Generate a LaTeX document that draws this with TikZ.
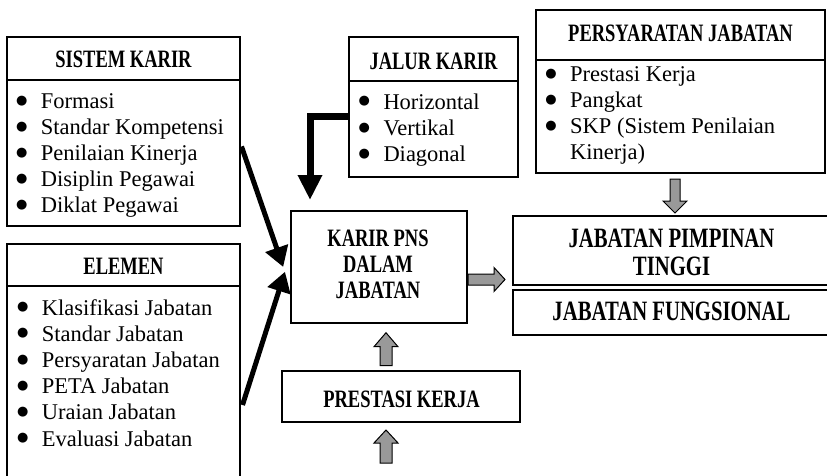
\documentclass[tikz,border=0pt]{standalone}
\usepackage{fontspec}
\usepackage{graphicx}
\setmainfont{Liberation Serif}
\newfontfamily\hdrfam[FakeStretch=0.74]{Liberation Serif}
\newfontfamily\bulfam{DejaVu Sans}
\usetikzlibrary{arrows.meta,calc}
\newcommand\bul{\makebox[0pt][r]{\raisebox{4.3pt}{\bulfam\fontsize{13}{13}\selectfont ●}\hspace{13.5pt}}}
\tikzset{
  box/.style={draw, line width=1.6pt, inner sep=0pt},
  rule/.style={line width=1.6pt},
  hdr/.style={font=\hdrfam\bfseries\fontsize{25}{26}\selectfont, inner sep=0pt, anchor=base},
  bighdr/.style={font=\hdrfam\bfseries\fontsize{28}{28}\selectfont, inner sep=0pt, anchor=base},
  itm/.style={font=\fontsize{22.5}{26}\selectfont, inner sep=0pt, anchor=base west},
  heavy/.style={line width=5pt, -{Triangle[length=20pt,width=23pt]}},
  heavyelbow/.style={line width=7pt, line join=miter, -{Triangle[length=25pt,width=23pt]}},
  garr/.style={draw=black, line width=1pt, fill=gray!80, line join=miter}
}
\newcommand\garrow[5]{%
  \path[garr, shift={#1}, rotate=#2] (0,-#5) -- (#4,-#5) -- (#4,-12) -- (#3,0) -- (#4,12) -- (#4,#5) -- (0,#5) -- cycle;}
\begin{document}
\begin{tikzpicture}[x=1pt,y=-1pt]
\useasboundingbox (0,0) rectangle (827,476);
\fill[white] (0,0) rectangle (827,476);

% SISTEM KARIR
\node[box, minimum width=233, minimum height=189] (sk) at (123.5,131.5) {};
\draw[rule] (sk.west |- 0,80) -- (sk.east |- 0,80);
\node[hdr] (skh) at (123.5,67.7) {SISTEM KARIR};
\foreach \t [count=\i] in {Formasi, Standar Kompetensi, Penilaian Kinerja, Disiplin Pegawai, Diklat Pegawai}
  \node[itm] (sk\i) at (40.7,{108.5+26*(\i-1)}) {\bul\t};

% ELEMEN
\node[box, minimum width=233, minimum height=236] (el) at (123.5,362) {};
\draw[rule] (el.west |- 0,286) -- (el.east |- 0,286);
\node[hdr] (elh) at (123.5,274) {ELEMEN};
\foreach \t [count=\i] in {Klasifikasi Jabatan, Standar Jabatan, Persyaratan Jabatan, PETA Jabatan, Uraian Jabatan, Evaluasi Jabatan}
  \node[itm] (el\i) at (41.7,{315+26.2*(\i-1)}) {\bul\t};

% JALUR KARIR
\node[box, minimum width=169, minimum height=140] (jk) at (433.5,107) {};
\draw[rule] (jk.west |- 0,81) -- (jk.east |- 0,81);
\node[hdr] (jkh) at (433.5,69.3) {JALUR KARIR};
\foreach \t [count=\i] in {Horizontal, Vertikal, Diagonal}
  \node[itm] (jk\i) at (383.3,{109.3+26.2*(\i-1)}) {\bul\t};

% PERSYARATAN JABATAN
\node[box, minimum width=289, minimum height=163] (pj) at (680.5,91.5) {};
\draw[rule] (pj.west |- 0,60) -- (pj.east |- 0,60);
\node[hdr] (pjh) at (680.5,41.7) {PERSYARATAN JABATAN};
\node[itm] (pj1) at (570,81.7) {\bul Prestasi Kerja};
\node[itm] (pj2) at (570,107.8) {\bul Pangkat};
\node[itm] (pj3) at (570,133.9) {\bul SKP (Sistem Penilaian};
\node[itm] (pj4) at (570,160) {Kinerja)};

% KARIR PNS DALAM JABATAN
\node[box, minimum width=176, minimum height=112] (kp) at (379,267) {};
\node[hdr] (kpa) at (378,246.7) {KARIR PNS};
\node[hdr] (kpb) at (378,272.7) {DALAM};
\node[hdr] (kpc) at (378,298.5) {JABATAN};

% JABATAN PIMPINAN TINGGI / FUNGSIONAL
\node[box, minimum width=317, minimum height=69] (jpt) at (671.5,250.5) {};
\node[bighdr] (jpta) at (671.5,247) {JABATAN PIMPINAN};
\node[bighdr] (jptb) at (671.5,275) {TINGGI};
\node[box, minimum width=317, minimum height=45] (jf) at (671.5,312.5) {};
\node[bighdr] (jfa) at (671.5,320.5) {JABATAN FUNGSIONAL};

% PRESTASI KERJA
\node[box, minimum width=238, minimum height=51] (pk) at (401,396.5) {};
\node[hdr] (pkh) at (401.5,407.3) {PRESTASI KERJA};

% black arrows
\coordinate (skout) at (241.5,146.5);
\coordinate (elout) at (242.5,405);
\draw[heavy] (skout) -- ($(kp.west)+(-7,0)$);
\draw[heavy] (elout) -- ($(kp.west)+(-5.2,4.7)$);
\draw[heavyelbow] (jk.west |- 0,117) -- (310,117) -- ($(kp.north west)+(19.8,-10.2)$);

% gray block arrows
\coordinate (g1) at ($(kp.east |- 0,279.5)+(0.2,0)$);
\coordinate (g2) at ($(pj.south)+(-5.5,5.2)$);
\coordinate (g3) at ($(pk.north)+(-15,-4.5)$);
\coordinate (g4) at (386,463);
\garrow{(g1)}{0}{37}{26}{5.5}
\garrow{(g2)}{-90}{34}{22}{5}
\garrow{(g3)}{90}{33}{19}{6}
\garrow{(g4)}{90}{33}{20}{6}
\end{tikzpicture}
\end{document}
